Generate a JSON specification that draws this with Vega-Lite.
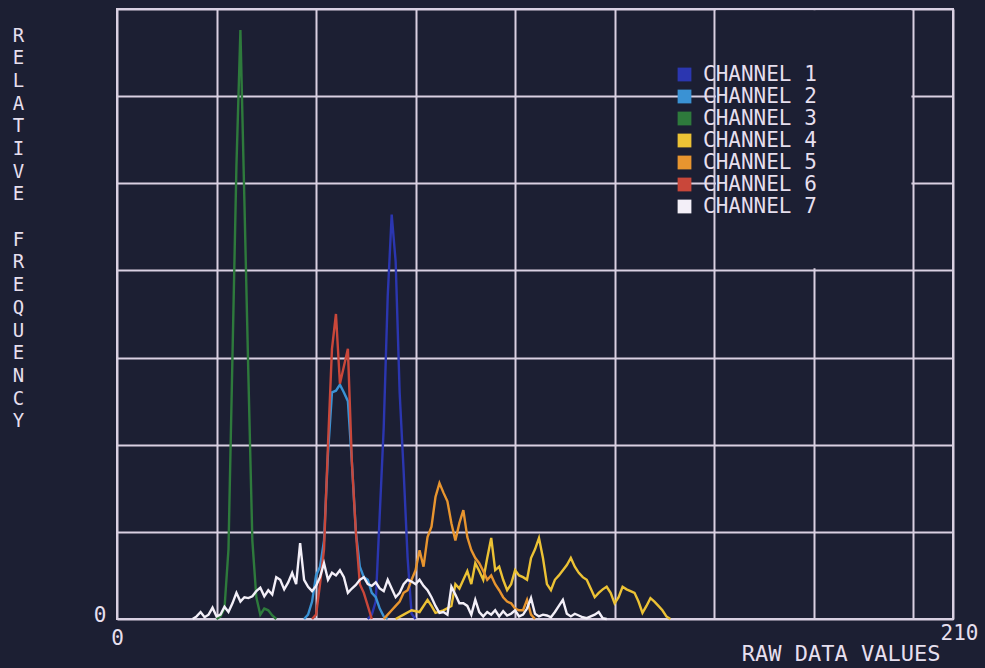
{
  "$schema": "https://vega.github.io/schema/vega-lite/v6.json",
  "width": 836,
  "height": 610,
  "autosize": {"type": "none"},
  "padding": {"left": 117, "top": 9, "right": 32, "bottom": 49},
  "background": "#1c1f33",
  "config": {
    "view": {"stroke": "#d9d0e2", "strokeWidth": 2},
    "font": "DejaVu Sans Mono"
  },
  "layer": [
    {
      "data": {"values": [{}]},
      "mark": {"type": "rect", "fill": "#1c1f33"},
      "encoding": {
        "x": {"datum": 150.45, "type": "quantitative", "scale": {"domain": [0, 210], "nice": false, "zero": false}},
        "x2": {"datum": 199.55},
        "y": {"datum": 40.25, "type": "quantitative", "scale": {"domain": [0, 70], "nice": false}},
        "y2": {"datum": 69.85}
      }
    },
    {
      "data": {"values": [
        {"c":"CHANNEL 1","x":63,"y":0},{"c":"CHANNEL 1","x":64,"y":0.5},{"c":"CHANNEL 1","x":65,"y":2},{"c":"CHANNEL 1","x":66,"y":12},{"c":"CHANNEL 1","x":67,"y":22},{"c":"CHANNEL 1","x":68,"y":37},{"c":"CHANNEL 1","x":69,"y":46.4},{"c":"CHANNEL 1","x":70,"y":41},{"c":"CHANNEL 1","x":71,"y":26},{"c":"CHANNEL 1","x":72,"y":17},{"c":"CHANNEL 1","x":73,"y":7},{"c":"CHANNEL 1","x":74,"y":0.6},{"c":"CHANNEL 1","x":75,"y":0},

        {"c":"CHANNEL 2","x":47,"y":0},{"c":"CHANNEL 2","x":48,"y":0.5},{"c":"CHANNEL 2","x":49,"y":2},{"c":"CHANNEL 2","x":50,"y":5},{"c":"CHANNEL 2","x":51,"y":6},{"c":"CHANNEL 2","x":52,"y":9},{"c":"CHANNEL 2","x":53,"y":19},{"c":"CHANNEL 2","x":54,"y":26},{"c":"CHANNEL 2","x":55,"y":26.2},{"c":"CHANNEL 2","x":56,"y":26.9},{"c":"CHANNEL 2","x":57,"y":26},{"c":"CHANNEL 2","x":58,"y":25},{"c":"CHANNEL 2","x":59,"y":18},{"c":"CHANNEL 2","x":60,"y":10},{"c":"CHANNEL 2","x":61,"y":6},{"c":"CHANNEL 2","x":62,"y":4.8},{"c":"CHANNEL 2","x":63,"y":4.5},{"c":"CHANNEL 2","x":64,"y":3},{"c":"CHANNEL 2","x":65,"y":2.5},{"c":"CHANNEL 2","x":66,"y":1.2},{"c":"CHANNEL 2","x":67,"y":0.3},{"c":"CHANNEL 2","x":68,"y":0},

        {"c":"CHANNEL 3","x":25,"y":0},{"c":"CHANNEL 3","x":26,"y":0.3},{"c":"CHANNEL 3","x":27,"y":1.2},{"c":"CHANNEL 3","x":28,"y":8},{"c":"CHANNEL 3","x":29,"y":30},{"c":"CHANNEL 3","x":30,"y":52},{"c":"CHANNEL 3","x":31,"y":67.6},{"c":"CHANNEL 3","x":32,"y":48},{"c":"CHANNEL 3","x":33,"y":28},{"c":"CHANNEL 3","x":34,"y":9},{"c":"CHANNEL 3","x":35,"y":2.5},{"c":"CHANNEL 3","x":36,"y":0.5},{"c":"CHANNEL 3","x":37,"y":1.2},{"c":"CHANNEL 3","x":38,"y":1.0},{"c":"CHANNEL 3","x":39,"y":0.4},{"c":"CHANNEL 3","x":40,"y":0},

        {"c":"CHANNEL 4","x":70,"y":0},{"c":"CHANNEL 4","x":72,"y":0.5},{"c":"CHANNEL 4","x":74,"y":1},{"c":"CHANNEL 4","x":76,"y":0.8},{"c":"CHANNEL 4","x":78,"y":2.2},{"c":"CHANNEL 4","x":79,"y":1.5},{"c":"CHANNEL 4","x":80,"y":0.7},{"c":"CHANNEL 4","x":82,"y":1},{"c":"CHANNEL 4","x":84,"y":1.5},{"c":"CHANNEL 4","x":85,"y":4},{"c":"CHANNEL 4","x":86,"y":3.5},{"c":"CHANNEL 4","x":87,"y":4.5},{"c":"CHANNEL 4","x":88,"y":5.5},{"c":"CHANNEL 4","x":89,"y":4},{"c":"CHANNEL 4","x":90,"y":6.4},{"c":"CHANNEL 4","x":91,"y":5.5},{"c":"CHANNEL 4","x":92,"y":4.5},{"c":"CHANNEL 4","x":93,"y":7},{"c":"CHANNEL 4","x":94,"y":9.3},{"c":"CHANNEL 4","x":95,"y":5.6},{"c":"CHANNEL 4","x":96,"y":6},{"c":"CHANNEL 4","x":97,"y":4.5},{"c":"CHANNEL 4","x":98,"y":3.3},{"c":"CHANNEL 4","x":99,"y":4},{"c":"CHANNEL 4","x":100,"y":5.6},{"c":"CHANNEL 4","x":101,"y":5},{"c":"CHANNEL 4","x":102,"y":4.8},{"c":"CHANNEL 4","x":103,"y":4.5},{"c":"CHANNEL 4","x":104,"y":7},{"c":"CHANNEL 4","x":105,"y":8},{"c":"CHANNEL 4","x":106,"y":9.3},{"c":"CHANNEL 4","x":107,"y":7},{"c":"CHANNEL 4","x":108,"y":4},{"c":"CHANNEL 4","x":109,"y":3.3},{"c":"CHANNEL 4","x":110,"y":4.5},{"c":"CHANNEL 4","x":111,"y":5},{"c":"CHANNEL 4","x":112,"y":5.6},{"c":"CHANNEL 4","x":113,"y":6.2},{"c":"CHANNEL 4","x":114,"y":7},{"c":"CHANNEL 4","x":115,"y":6},{"c":"CHANNEL 4","x":116,"y":5.3},{"c":"CHANNEL 4","x":117,"y":4.8},{"c":"CHANNEL 4","x":118,"y":4.5},{"c":"CHANNEL 4","x":119,"y":3.5},{"c":"CHANNEL 4","x":120,"y":2.5},{"c":"CHANNEL 4","x":121,"y":3},{"c":"CHANNEL 4","x":122,"y":3.4},{"c":"CHANNEL 4","x":123,"y":3.7},{"c":"CHANNEL 4","x":124,"y":3},{"c":"CHANNEL 4","x":125,"y":1.8},{"c":"CHANNEL 4","x":126,"y":2.5},{"c":"CHANNEL 4","x":127,"y":3.7},{"c":"CHANNEL 4","x":128,"y":3.4},{"c":"CHANNEL 4","x":129,"y":3.2},{"c":"CHANNEL 4","x":130,"y":3},{"c":"CHANNEL 4","x":131,"y":2},{"c":"CHANNEL 4","x":132,"y":0.7},{"c":"CHANNEL 4","x":133,"y":1.5},{"c":"CHANNEL 4","x":134,"y":2.4},{"c":"CHANNEL 4","x":135,"y":2},{"c":"CHANNEL 4","x":136,"y":1.5},{"c":"CHANNEL 4","x":137,"y":1},{"c":"CHANNEL 4","x":138,"y":0.3},{"c":"CHANNEL 4","x":139,"y":0},

        {"c":"CHANNEL 5","x":67,"y":0},{"c":"CHANNEL 5","x":68,"y":0.5},{"c":"CHANNEL 5","x":69,"y":1},{"c":"CHANNEL 5","x":70,"y":1.5},{"c":"CHANNEL 5","x":71,"y":2},{"c":"CHANNEL 5","x":72,"y":3},{"c":"CHANNEL 5","x":73,"y":3.3},{"c":"CHANNEL 5","x":74,"y":4.5},{"c":"CHANNEL 5","x":75,"y":5.6},{"c":"CHANNEL 5","x":76,"y":7.9},{"c":"CHANNEL 5","x":77,"y":6},{"c":"CHANNEL 5","x":78,"y":9.4},{"c":"CHANNEL 5","x":79,"y":10.6},{"c":"CHANNEL 5","x":80,"y":14},{"c":"CHANNEL 5","x":81,"y":15.6},{"c":"CHANNEL 5","x":82,"y":14.5},{"c":"CHANNEL 5","x":83,"y":13.5},{"c":"CHANNEL 5","x":84,"y":11},{"c":"CHANNEL 5","x":85,"y":9},{"c":"CHANNEL 5","x":86,"y":11},{"c":"CHANNEL 5","x":87,"y":12.5},{"c":"CHANNEL 5","x":88,"y":9.4},{"c":"CHANNEL 5","x":89,"y":7.9},{"c":"CHANNEL 5","x":90,"y":7},{"c":"CHANNEL 5","x":91,"y":6.4},{"c":"CHANNEL 5","x":92,"y":5.5},{"c":"CHANNEL 5","x":93,"y":4.5},{"c":"CHANNEL 5","x":94,"y":5},{"c":"CHANNEL 5","x":95,"y":4},{"c":"CHANNEL 5","x":96,"y":3.3},{"c":"CHANNEL 5","x":97,"y":2.5},{"c":"CHANNEL 5","x":98,"y":2},{"c":"CHANNEL 5","x":99,"y":1.8},{"c":"CHANNEL 5","x":100,"y":1.2},{"c":"CHANNEL 5","x":101,"y":1},{"c":"CHANNEL 5","x":102,"y":1},{"c":"CHANNEL 5","x":103,"y":2.2},{"c":"CHANNEL 5","x":104,"y":0.5},{"c":"CHANNEL 5","x":105,"y":0},

        {"c":"CHANNEL 6","x":49,"y":0},{"c":"CHANNEL 6","x":50,"y":0.5},{"c":"CHANNEL 6","x":51,"y":4},{"c":"CHANNEL 6","x":52,"y":8},{"c":"CHANNEL 6","x":53,"y":20},{"c":"CHANNEL 6","x":54,"y":31},{"c":"CHANNEL 6","x":55,"y":35},{"c":"CHANNEL 6","x":56,"y":27},{"c":"CHANNEL 6","x":57,"y":29},{"c":"CHANNEL 6","x":58,"y":31},{"c":"CHANNEL 6","x":59,"y":18},{"c":"CHANNEL 6","x":60,"y":10},{"c":"CHANNEL 6","x":61,"y":4},{"c":"CHANNEL 6","x":62,"y":3},{"c":"CHANNEL 6","x":63,"y":1.5},{"c":"CHANNEL 6","x":64,"y":0},

        {"c":"CHANNEL 7","x":19,"y":0},{"c":"CHANNEL 7","x":20,"y":0.3},{"c":"CHANNEL 7","x":21,"y":0.8},{"c":"CHANNEL 7","x":22,"y":0.2},{"c":"CHANNEL 7","x":23,"y":0.5},{"c":"CHANNEL 7","x":24,"y":1.3},{"c":"CHANNEL 7","x":25,"y":0.3},{"c":"CHANNEL 7","x":26,"y":0.5},{"c":"CHANNEL 7","x":27,"y":1.4},{"c":"CHANNEL 7","x":28,"y":0.8},{"c":"CHANNEL 7","x":29,"y":1.8},{"c":"CHANNEL 7","x":30,"y":3},{"c":"CHANNEL 7","x":31,"y":2},{"c":"CHANNEL 7","x":32,"y":2.5},{"c":"CHANNEL 7","x":33,"y":2.4},{"c":"CHANNEL 7","x":34,"y":2.6},{"c":"CHANNEL 7","x":35,"y":3.2},{"c":"CHANNEL 7","x":36,"y":3.6},{"c":"CHANNEL 7","x":37,"y":2.6},{"c":"CHANNEL 7","x":38,"y":3.3},{"c":"CHANNEL 7","x":39,"y":2.8},{"c":"CHANNEL 7","x":40,"y":4.8},{"c":"CHANNEL 7","x":41,"y":4.5},{"c":"CHANNEL 7","x":42,"y":3.4},{"c":"CHANNEL 7","x":43,"y":4.2},{"c":"CHANNEL 7","x":44,"y":5.3},{"c":"CHANNEL 7","x":45,"y":4},{"c":"CHANNEL 7","x":46,"y":8.7},{"c":"CHANNEL 7","x":47,"y":4.5},{"c":"CHANNEL 7","x":48,"y":3.7},{"c":"CHANNEL 7","x":49,"y":3.2},{"c":"CHANNEL 7","x":50,"y":3.8},{"c":"CHANNEL 7","x":51,"y":4.8},{"c":"CHANNEL 7","x":52,"y":6.4},{"c":"CHANNEL 7","x":53,"y":4.5},{"c":"CHANNEL 7","x":54,"y":5.3},{"c":"CHANNEL 7","x":55,"y":5},{"c":"CHANNEL 7","x":56,"y":5.6},{"c":"CHANNEL 7","x":57,"y":4.8},{"c":"CHANNEL 7","x":58,"y":3},{"c":"CHANNEL 7","x":59,"y":3.5},{"c":"CHANNEL 7","x":60,"y":3.9},{"c":"CHANNEL 7","x":61,"y":4.5},{"c":"CHANNEL 7","x":62,"y":4.8},{"c":"CHANNEL 7","x":63,"y":4},{"c":"CHANNEL 7","x":64,"y":3.8},{"c":"CHANNEL 7","x":65,"y":4.2},{"c":"CHANNEL 7","x":66,"y":3.5},{"c":"CHANNEL 7","x":67,"y":3.2},{"c":"CHANNEL 7","x":68,"y":4.5},{"c":"CHANNEL 7","x":69,"y":3.5},{"c":"CHANNEL 7","x":70,"y":2.5},{"c":"CHANNEL 7","x":71,"y":3},{"c":"CHANNEL 7","x":72,"y":4},{"c":"CHANNEL 7","x":73,"y":4.5},{"c":"CHANNEL 7","x":74,"y":4.3},{"c":"CHANNEL 7","x":75,"y":4},{"c":"CHANNEL 7","x":76,"y":4.5},{"c":"CHANNEL 7","x":77,"y":3.8},{"c":"CHANNEL 7","x":78,"y":3.3},{"c":"CHANNEL 7","x":79,"y":2.5},{"c":"CHANNEL 7","x":80,"y":1.5},{"c":"CHANNEL 7","x":81,"y":0.7},{"c":"CHANNEL 7","x":82,"y":0.8},{"c":"CHANNEL 7","x":83,"y":0.5},{"c":"CHANNEL 7","x":84,"y":3.7},{"c":"CHANNEL 7","x":85,"y":2.8},{"c":"CHANNEL 7","x":86,"y":1.8},{"c":"CHANNEL 7","x":87,"y":1.8},{"c":"CHANNEL 7","x":88,"y":1.5},{"c":"CHANNEL 7","x":89,"y":0.5},{"c":"CHANNEL 7","x":90,"y":2.2},{"c":"CHANNEL 7","x":91,"y":0.8},{"c":"CHANNEL 7","x":92,"y":0.3},{"c":"CHANNEL 7","x":93,"y":0.8},{"c":"CHANNEL 7","x":94,"y":0.5},{"c":"CHANNEL 7","x":95,"y":1},{"c":"CHANNEL 7","x":96,"y":0.3},{"c":"CHANNEL 7","x":97,"y":0.9},{"c":"CHANNEL 7","x":98,"y":0.4},{"c":"CHANNEL 7","x":99,"y":0.6},{"c":"CHANNEL 7","x":100,"y":1},{"c":"CHANNEL 7","x":101,"y":0.3},{"c":"CHANNEL 7","x":102,"y":0.5},{"c":"CHANNEL 7","x":103,"y":1.2},{"c":"CHANNEL 7","x":104,"y":2.4},{"c":"CHANNEL 7","x":105,"y":0.6},{"c":"CHANNEL 7","x":106,"y":0.3},{"c":"CHANNEL 7","x":107,"y":0.5},{"c":"CHANNEL 7","x":108,"y":0.4},{"c":"CHANNEL 7","x":109,"y":0.2},{"c":"CHANNEL 7","x":110,"y":0.8},{"c":"CHANNEL 7","x":111,"y":1.5},{"c":"CHANNEL 7","x":112,"y":2.2},{"c":"CHANNEL 7","x":113,"y":0.6},{"c":"CHANNEL 7","x":114,"y":0.3},{"c":"CHANNEL 7","x":115,"y":0.6},{"c":"CHANNEL 7","x":116,"y":0.4},{"c":"CHANNEL 7","x":117,"y":0.2},{"c":"CHANNEL 7","x":118,"y":0.1},{"c":"CHANNEL 7","x":119,"y":0.3},{"c":"CHANNEL 7","x":120,"y":0.5},{"c":"CHANNEL 7","x":121,"y":0.8},{"c":"CHANNEL 7","x":122,"y":0.1},{"c":"CHANNEL 7","x":123,"y":0}
      ]},
      "mark": {"type": "line", "strokeWidth": 2.4, "interpolate": "linear"},
      "encoding": {
        "x": {
          "field": "x", "type": "quantitative",
          "scale": {"domain": [0, 210], "nice": false, "zero": false},
          "axis": {
            "values": [0, 25, 50, 75, 100, 125, 150, 175, 200, 210],
            "labelExpr": "datum.value == 0 || datum.value == 210 ? datum.label : ''",
            "domain": false, "ticks": false,
            "grid": true, "gridColor": "#d9d0e2", "gridWidth": 2, "gridOpacity": 1,
            "labelFont": "DejaVu Sans Mono", "labelFontSize": 21, "labelColor": "#e6dfee",
            "labelBaseline": "top",
            "labelPadding": {"condition": {"test": "datum.value == 210", "value": 3}, "value": 8},
            "labelOffset": {"condition": {"test": "datum.value == 210", "value": 6}, "value": 0},
            "labelFlush": false,
            "title": "RAW DATA VALUES",
            "titleFont": "DejaVu Sans Mono", "titleFontSize": 22, "titleFontWeight": "normal",
            "titleColor": "#e6dfee", "titleAlign": "right", "titleAnchor": null,
            "titleX": 823, "titleY": 34, "titleBaseline": "middle"
          }
        },
        "y": {
          "field": "y", "type": "quantitative",
          "scale": {"domain": [0, 70], "nice": false},
          "axis": {
            "values": [0, 10, 20, 30, 40, 50, 60, 70],
            "labelExpr": "datum.value == 0 ? datum.label : ''",
            "domain": false, "ticks": false,
            "grid": true, "gridColor": "#d9d0e2", "gridWidth": 2, "gridOpacity": 1,
            "labelFont": "DejaVu Sans Mono", "labelFontSize": 21, "labelColor": "#e6dfee",
            "labelPadding": 11, "labelOffset": -4, "labelBaseline": "middle",
            "title": ["R","E","L","A","T","I","V","E","\u200b","F","R","E","Q","U","E","N","C","Y"],
            "titleFont": "DejaVu Sans Mono", "titleFontSize": 19, "titleFontWeight": "normal",
            "titleColor": "#e6dfee", "titleAngle": 0, "titleAlign": "center",
            "titleBaseline": "top", "titleLineHeight": 22.7,
            "titleX": -99, "titleY": 17
          }
        },
        "color": {
          "field": "c", "type": "nominal",
          "scale": {
            "domain": ["CHANNEL 1","CHANNEL 2","CHANNEL 3","CHANNEL 4","CHANNEL 5","CHANNEL 6","CHANNEL 7"],
            "range": ["#2b36b0","#3a92d4","#2e7a3c","#ecc235","#e8952f","#c9473a","#f3eff8"]
          },
          "legend": {
            "orient": "none", "legendX": 557, "legendY": 55,
            "title": null,
            "symbolType": "square", "symbolSize": 190, "symbolStrokeWidth": 0,
            "labelFont": "DejaVu Sans Mono", "labelFontSize": 21, "labelColor": "#e6dfee",
            "labelOffset": 8, "rowPadding": 0,
            "encode": {"symbols": {"update": {"fill": {"scale": "color", "field": "value"}, "fillOpacity": {"value": 1}}}}
          }
        }
      }
    }
  ]
}
